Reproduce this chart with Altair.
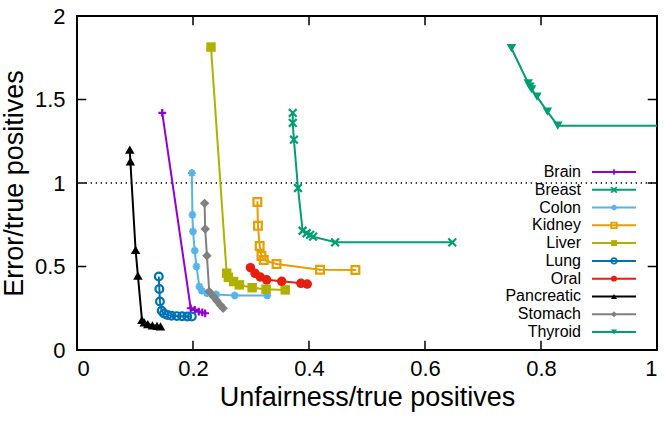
import altair as alt
import pandas as pd

names = ["Brain", "Breast", "Colon", "Kidney", "Liver", "Lung", "Oral",
         "Pancreatic", "Stomach", "Thyroid"]
colors = ["#9400d3", "#009e73", "#56b4e9", "#e69f00", "#b0b000", "#0072b2",
          "#e51e10", "#000000", "#808080", "#009e73"]

brain_x = [0.147, 0.196, 0.203, 0.210, 0.216, 0.221]
brain_y = [1.42, 0.25, 0.24, 0.23, 0.225, 0.22]
breast_x = [0.372, 0.372, 0.374, 0.381, 0.389, 0.396, 0.402, 0.407, 0.445, 0.647]
breast_y = [1.42, 1.36, 1.26, 0.97, 0.714, 0.699, 0.689, 0.679, 0.645, 0.645]
colon_x = [0.198, 0.199, 0.200, 0.203, 0.206, 0.211, 0.215, 0.224, 0.240, 0.272, 0.328]
colon_y = [1.06, 0.81, 0.71, 0.595, 0.50, 0.38, 0.355, 0.34, 0.333, 0.327, 0.327]
kidney_x = [0.311, 0.312, 0.315, 0.318, 0.322, 0.344, 0.419, 0.480]
kidney_y = [0.886, 0.744, 0.623, 0.563, 0.539, 0.515, 0.481, 0.479]
liver_x = [0.231, 0.258, 0.261, 0.270, 0.280, 0.302, 0.326, 0.359]
liver_y = [1.814, 0.46, 0.435, 0.41, 0.39, 0.373, 0.364, 0.36]
lung_x = [0.141, 0.142, 0.143, 0.146, 0.150, 0.156, 0.163, 0.172, 0.181, 0.190, 0.198]
lung_y = [0.44, 0.365, 0.29, 0.235, 0.218, 0.21, 0.205, 0.203, 0.202, 0.201, 0.20]
oral_x = [0.299, 0.307, 0.316, 0.327, 0.353, 0.386, 0.397]
oral_y = [0.493, 0.459, 0.437, 0.42, 0.411, 0.399, 0.395]
pancreatic_x = [0.091, 0.092, 0.101, 0.105, 0.112, 0.116, 0.122, 0.130, 0.138, 0.144]
pancreatic_y = [1.20, 1.13, 0.60, 0.445, 0.18, 0.165, 0.155, 0.148, 0.145, 0.142]
stomach_x = [0.220, 0.221, 0.224, 0.228, 0.235, 0.241, 0.247, 0.252]
stomach_y = [0.878, 0.725, 0.565, 0.35, 0.32, 0.295, 0.27, 0.25]
thyroid_x = [0.749, 0.778, 0.781, 0.784, 0.793, 0.811, 0.829, 1.2]
thyroid_y = [1.807, 1.597, 1.577, 1.561, 1.517, 1.427, 1.343, 1.343]

x_ticks = [0, 0.2, 0.4, 0.6, 0.8, 1]
y_ticks = [0, 0.5, 1, 1.5, 2]
ref_line = [1]

# marker shapes (style)
P_PLUS = "M-1,0H1M0,-1V1"
P_X = "M-1,-1L1,1M-1,1L1,-1"
P_STAR = "M-1,0H1M0,-1V1M-0.7,-0.7L0.7,0.7M-0.7,0.7L0.7,-0.7"
shapes = [P_PLUS, P_X, P_STAR, "square", "square", "circle", "circle",
          "triangle-up", "diamond", "triangle-down"]
filled = [False, False, False, False, True, False, True, True, True, True]

series = [brain_x, breast_x, colon_x, kidney_x, liver_x, lung_x, oral_x,
          pancreatic_x, stomach_x, thyroid_x]
series_y = [brain_y, breast_y, colon_y, kidney_y, liver_y, lung_y, oral_y,
            pancreatic_y, stomach_y, thyroid_y]

rows = []
for n, xs, ys, f in zip(names, series, series_y, filled):
    for i, (a, b) in enumerate(zip(xs, ys)):
        rows.append({"series": n, "x": a, "y": b, "idx": i, "filled": f})
df = pd.DataFrame(rows)
leg = pd.DataFrame({"series": names, "filled": filled})

W, H = 580, 334
xs_ = alt.Scale(domain=[0, 1], nice=False)
ys_ = alt.Scale(domain=[0, 2], nice=False)
color = alt.Color("series:N", scale=alt.Scale(domain=names, range=colors), legend=None)
shape = alt.Shape("series:N", scale=alt.Scale(domain=names, range=shapes), legend=None)

FONT = "Liberation Sans"
xaxis = alt.Axis(values=x_ticks, format="~g", ticks=False, domain=False, grid=False,
                 labelFontSize=22, labelPadding=8, titleFontSize=27,
                 titleFontWeight="normal", titlePadding=5, labelColor="black",
                 titleColor="black", labelFont=FONT, titleFont=FONT)
yaxis = alt.Axis(values=y_ticks, format="~g", ticks=False, domain=False, grid=False,
                 labelFontSize=22, labelPadding=12, titleFontSize=27,
                 titleFontWeight="normal", titlePadding=6, labelColor="black",
                 titleColor="black", labelFont=FONT, titleFont=FONT)

lines = alt.Chart(df).mark_line(strokeWidth=2, clip=True).encode(
    x=alt.X("x:Q", scale=xs_, axis=xaxis, title="Unfairness/true positives"),
    y=alt.Y("y:Q", scale=ys_, axis=yaxis, title="Error/true positives"),
    color=color, detail="series:N", order="idx:Q")

pts_f = alt.Chart(df).transform_filter("datum.filled").mark_point(
    filled=True, size=90, opacity=1, clip=True).encode(
    x=alt.X("x:Q", scale=xs_), y=alt.Y("y:Q", scale=ys_), color=color, shape=shape)
pts_o = alt.Chart(df).transform_filter("!datum.filled").mark_point(
    filled=False, size=60, strokeWidth=2.2, opacity=1, clip=True).encode(
    x=alt.X("x:Q", scale=xs_), y=alt.Y("y:Q", scale=ys_), color=color, shape=shape)
pts_dot = alt.Chart(df).transform_filter("datum.series == 'Kidney'").mark_point(
    filled=True, size=3, shape="square", opacity=1, clip=True).encode(
    x=alt.X("x:Q", scale=xs_), y=alt.Y("y:Q", scale=ys_), color=color)

refdf = pd.DataFrame({"y": ref_line})
dotted = alt.Chart(refdf).mark_rule(color="black", strokeWidth=1.3,
                                    strokeDash=[1.3, 3.7]).encode(
    y=alt.Y("y:Q", scale=ys_), x=alt.datum(0.015), x2=alt.datum(1))

tl = 0.016
th = 0.055
xt = pd.DataFrame({"x": x_ticks})
yt = pd.DataFrame({"y": y_ticks})
tick_b = alt.Chart(xt).mark_rule(color="black", strokeWidth=1.5).encode(
    x=alt.X("x:Q", scale=xs_), y=alt.datum(0), y2=alt.datum(th))
tick_t = alt.Chart(xt).mark_rule(color="black", strokeWidth=1.5).encode(
    x=alt.X("x:Q", scale=xs_), y=alt.datum(2), y2=alt.datum(2 - th))
tick_l = alt.Chart(yt).mark_rule(color="black", strokeWidth=1.5).encode(
    y=alt.Y("y:Q", scale=ys_), x=alt.datum(0), x2=alt.datum(tl))
tick_r = alt.Chart(yt).mark_rule(color="black", strokeWidth=1.5).encode(
    y=alt.Y("y:Q", scale=ys_), x=alt.datum(1), x2=alt.datum(1 - tl))

ly = alt.Y("series:N", scale=alt.Scale(domain=names, range=[156, 316], type="point",
                                       padding=0), axis=None)
leg_text = alt.Chart(leg).mark_text(align="right", baseline="middle", fontSize=16,
                                    font=FONT, color="black").encode(
    y=ly, x=alt.value(504), text="series:N")
leg_line = alt.Chart(leg).mark_rule(strokeWidth=2).encode(
    y=ly, x=alt.value(515), x2=alt.value(559), color=color)
leg_pf = alt.Chart(leg).transform_filter("datum.filled").mark_point(
    filled=True, size=35, opacity=1).encode(
    y=ly, x=alt.value(537), color=color, shape=shape)
leg_po = alt.Chart(leg).transform_filter("!datum.filled").mark_point(
    filled=False, size=30, strokeWidth=1.8, opacity=1).encode(
    y=ly, x=alt.value(537), color=color, shape=shape)

main = alt.layer(dotted, lines, pts_o, pts_f, pts_dot, tick_b, tick_t, tick_l, tick_r)
legend = alt.layer(leg_line, leg_po, leg_pf, leg_text)

chart = alt.layer(main, legend).resolve_scale(y="independent").properties(
    width=W, height=H,
    autosize=alt.AutoSizeParams(type="none"),
    padding={"left": 77, "top": 16, "right": 8, "bottom": 72},
).configure_view(stroke="black", strokeWidth=2)

chart.save("out.html", embed_options={"renderer": "svg", "actions": False})
